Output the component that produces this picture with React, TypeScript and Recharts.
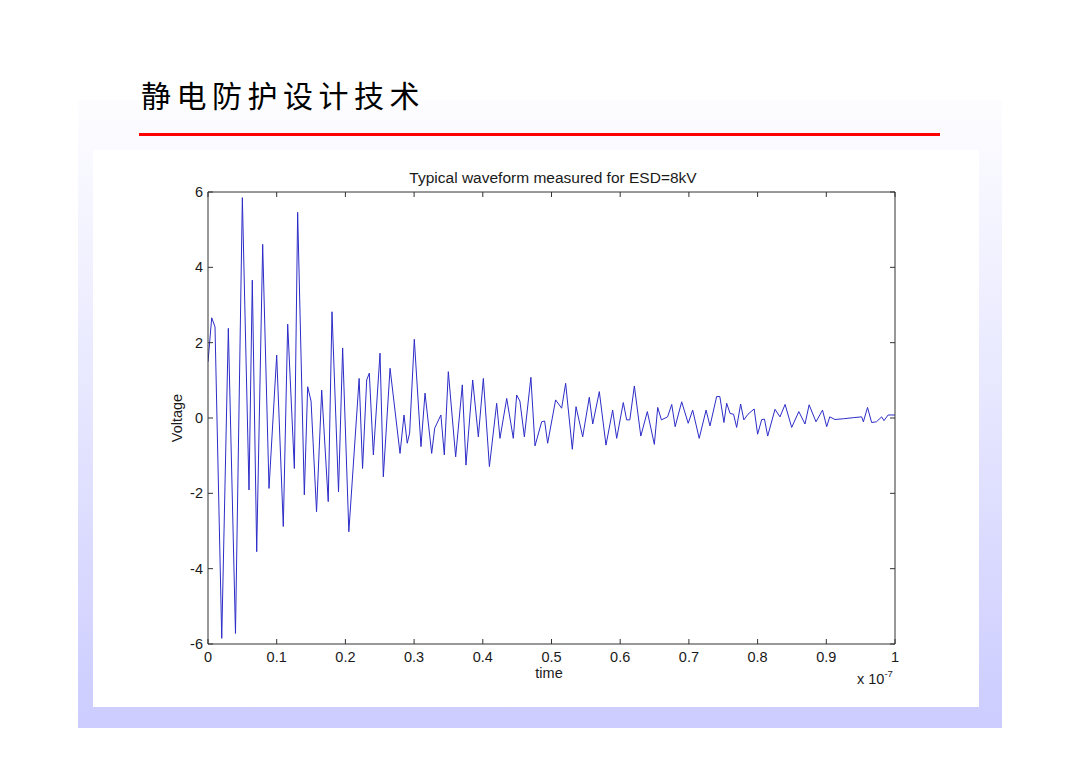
import React from 'react';
import { LineChart, Line, XAxis, YAxis } from 'recharts';

const timeValues: number[] = [
  0, 0.0054, 0.0102, 0.02, 0.0296, 0.04, 0.05, 0.0597, 0.0645, 0.0709,
  0.0796, 0.0888, 0.1, 0.1096, 0.116, 0.1257, 0.1305, 0.1402, 0.1451, 0.15,
  0.158, 0.1655, 0.175, 0.1805, 0.19, 0.196, 0.205, 0.22, 0.225, 0.231,
  0.2348, 0.2407, 0.2504, 0.2552, 0.265, 0.2795, 0.2853, 0.29, 0.2935, 0.3003,
  0.31, 0.3159, 0.3256, 0.33, 0.339, 0.344, 0.3498, 0.3605, 0.3702, 0.3755,
  0.3853, 0.3935, 0.4008, 0.4096, 0.4202, 0.425, 0.4348, 0.4444, 0.4493, 0.454,
  0.4605, 0.47, 0.476, 0.4857, 0.49, 0.4944, 0.506, 0.5148, 0.5206, 0.5303,
  0.5357, 0.5454, 0.555, 0.56, 0.5696, 0.5793, 0.589, 0.5949, 0.6045, 0.6094,
  0.614, 0.6206, 0.63, 0.6395, 0.6497, 0.6546, 0.66, 0.669, 0.675, 0.68,
  0.6895, 0.699, 0.7055, 0.715, 0.725, 0.7307, 0.7404, 0.745, 0.751, 0.755,
  0.76, 0.765, 0.7695, 0.7753, 0.78, 0.786, 0.795, 0.8, 0.806, 0.81,
  0.8147, 0.8253, 0.8326, 0.84, 0.8496, 0.86, 0.869, 0.875, 0.885, 0.8945,
  0.9006, 0.905, 0.9127, 0.925, 0.94, 0.9515, 0.954, 0.96, 0.966, 0.973,
  0.9806, 0.984, 0.99, 1.0,
];

const voltageValues: number[] = [
  1.49, 2.66, 2.42, -5.85, 2.38, -5.72, 5.85, -1.91, 3.66, -3.55,
  4.61, -1.87, 1.67, -2.88, 2.49, -1.34, 5.46, -2.04, 0.83, 0.45,
  -2.49, 0.74, -2.22, 2.82, -1.96, 1.86, -3.02, 1.05, -1.34, 1.01,
  1.19, -0.98, 1.72, -1.56, 1.32, -0.94, 0.08, -0.67, -0.4, 2.09,
  -0.76, 0.66, -0.94, -0.27, 0.08, -0.98, 1.23, -1.03, 0.88, -1.25,
  1.01, -0.5, 1.05, -1.29, 0.39, -0.54, 0.52, -0.54, 0.61, 0.45,
  -0.5, 1.08, -0.74, -0.1, -0.08, -0.67, 0.48, 0.26, 0.92, -0.83,
  0.3, -0.5, 0.55, -0.16, 0.7, -0.72, 0.21, -0.54, 0.41, -0.05,
  -0.05, 0.85, -0.48, 0.17, -0.7, 0.28, -0.05, 0.03, 0.36, -0.23,
  0.43, -0.14, 0.21, -0.54, 0.21, -0.21, 0.57, 0.57, -0.12, 0.39,
  0.12, 0.1, -0.25, 0.37, -0.05, 0.1, 0.24, -0.43, -0.04, -0.03,
  -0.48, 0.23, 0.03, 0.36, -0.25, 0.17, -0.16, 0.35, -0.1, 0.21,
  -0.23, 0.03, -0.04, -0.02, 0.01, 0.03, -0.1, 0.28, -0.12, -0.1,
  0.03, -0.07, 0.08, 0.08,
];

const xTicks: number[] = [0, 0.1, 0.2, 0.3, 0.4, 0.5, 0.6, 0.7, 0.8, 0.9, 1];
const xTickLabels: string[] = ['0', '0.1', '0.2', '0.3', '0.4', '0.5', '0.6', '0.7', '0.8', '0.9', '1'];
const yTicks: number[] = [-6, -4, -2, 0, 2, 4, 6];

const slideTitle = '静电防护设计技术';
const chartTitle = 'Typical waveform measured for ESD=8kV';
const xLabel = 'time';
const yLabel = 'Voltage';

const data = timeValues.map((t, i) => ({ t, v: voltageValues[i] }));

const AXIS_COLOR = '#333333';
const TEXT_COLOR = '#1a1a1a';
const FONT = '"Liberation Sans", Arial, Helvetica, sans-serif';
const TICK_LEN = 5;
const TICK_FONT = 14.5;

const fmtX = (v: number) => {
  const idx = xTicks.findIndex((t) => Math.abs(t - v) < 1e-9);
  return idx >= 0 ? xTickLabels[idx] : String(v);
};

const BottomTick = (props: any) => {
  const { x, y, payload } = props;
  return (
    <g>
      <line x1={x} y1={y} x2={x} y2={y - TICK_LEN} stroke={AXIS_COLOR} strokeWidth={1} />
      <text x={x} y={y + 18} textAnchor="middle" fontFamily={FONT} fontSize={TICK_FONT} fill={TEXT_COLOR}>
        {fmtX(payload.value)}
      </text>
    </g>
  );
};

const TopTick = (props: any) => {
  const { x, y } = props;
  return <line x1={x} y1={y} x2={x} y2={y + TICK_LEN} stroke={AXIS_COLOR} strokeWidth={1} />;
};

const LeftTick = (props: any) => {
  const { x, y, payload } = props;
  return (
    <g>
      <line x1={x} y1={y} x2={x + TICK_LEN} y2={y} stroke={AXIS_COLOR} strokeWidth={1} />
      <text x={x - 5} y={y + 5} textAnchor="end" fontFamily={FONT} fontSize={TICK_FONT} fill={TEXT_COLOR}>
        {String(payload.value)}
      </text>
    </g>
  );
};

const RightTick = (props: any) => {
  const { x, y } = props;
  return <line x1={x} y1={y} x2={x - TICK_LEN} y2={y} stroke={AXIS_COLOR} strokeWidth={1} />;
};

export default function App() {
  return (
    <div
      style={{
        position: 'absolute',
        left: 0,
        top: 0,
        width: 1080,
        height: 764,
        background: '#ffffff',
        overflow: 'hidden',
        fontFamily: FONT,
      }}
    >
      <div
        style={{
          position: 'absolute',
          left: 78,
          top: 100,
          width: 924,
          height: 628,
          background: 'linear-gradient(to bottom, #fdfdff 0%, #e8e8ff 45%, #ccccff 100%)',
        }}
      />
      <div
        style={{
          position: 'absolute',
          left: 93,
          top: 150,
          width: 886,
          height: 557,
          background: '#ffffff',
        }}
      />
      <div
        style={{
          position: 'absolute',
          left: 141,
          top: 77,
          fontFamily: '"Noto Sans CJK SC", sans-serif',
          fontSize: 30,
          lineHeight: '34px',
          letterSpacing: 5.5,
          fontWeight: 400,
          color: '#000000',
          whiteSpace: 'nowrap',
        }}
      >
        {slideTitle}
      </div>
      <div
        style={{
          position: 'absolute',
          left: 139,
          top: 133,
          width: 801,
          height: 3,
          background: '#ff0000',
        }}
      />
      <div style={{ position: 'absolute', left: 0, top: 0 }}>
        <LineChart
          width={1080}
          height={764}
          data={data}
          margin={{ top: 182, right: 175, bottom: 80, left: 168 }}
        >
          <XAxis
            xAxisId="b"
            dataKey="t"
            type="number"
            domain={[0, 1]}
            ticks={xTicks}
            interval={0}
            orientation="bottom"
            height={40}
            tickSize={0}
            tickMargin={0}
            tick={<BottomTick />}
            tickLine={false}
            axisLine={{ stroke: AXIS_COLOR }}
            allowDataOverflow
          />
          <XAxis
            xAxisId="t"
            dataKey="t"
            type="number"
            domain={[0, 1]}
            ticks={xTicks}
            interval={0}
            orientation="top"
            height={10}
            tickSize={0}
            tickMargin={0}
            tick={<TopTick />}
            tickLine={false}
            axisLine={{ stroke: AXIS_COLOR }}
            allowDataOverflow
          />
          <YAxis
            yAxisId="l"
            type="number"
            domain={[-6, 6]}
            ticks={yTicks}
            interval={0}
            orientation="left"
            width={40}
            tickSize={0}
            tickMargin={0}
            tick={<LeftTick />}
            tickLine={false}
            axisLine={{ stroke: AXIS_COLOR }}
            allowDataOverflow
          />
          <YAxis
            yAxisId="r"
            type="number"
            domain={[-6, 6]}
            ticks={yTicks}
            interval={0}
            orientation="right"
            width={10}
            tickSize={0}
            tickMargin={0}
            tick={<RightTick />}
            tickLine={false}
            axisLine={{ stroke: AXIS_COLOR }}
            allowDataOverflow
          />
          <Line
            xAxisId="b"
            yAxisId="l"
            type="linear"
            dataKey="v"
            stroke="#2c2cc8"
            strokeWidth={1}
            dot={false}
            activeDot={false}
            isAnimationActive={false}
          />
        </LineChart>
      </div>
      <svg
        width={1080}
        height={764}
        style={{ position: 'absolute', left: 0, top: 0, pointerEvents: 'none' }}
      >
        <text x={553} y={183} textAnchor="middle" fontFamily={FONT} fontSize={15.5} fill={TEXT_COLOR}>
          {chartTitle}
        </text>
        <text x={549} y={678} textAnchor="middle" fontFamily={FONT} fontSize={TICK_FONT} fill={TEXT_COLOR}>
          {xLabel}
        </text>
        <text
          x={182}
          y={418}
          textAnchor="middle"
          fontFamily={FONT}
          fontSize={TICK_FONT}
          fill={TEXT_COLOR}
          transform="rotate(-90 182 418)"
        >
          {yLabel}
        </text>
        <text x={857} y={684} fontFamily={FONT} fontSize={TICK_FONT} fill={TEXT_COLOR}>
          x 10
          <tspan dy={-7} fontSize={9.5}>-7</tspan>
        </text>
      </svg>
    </div>
  );
}
